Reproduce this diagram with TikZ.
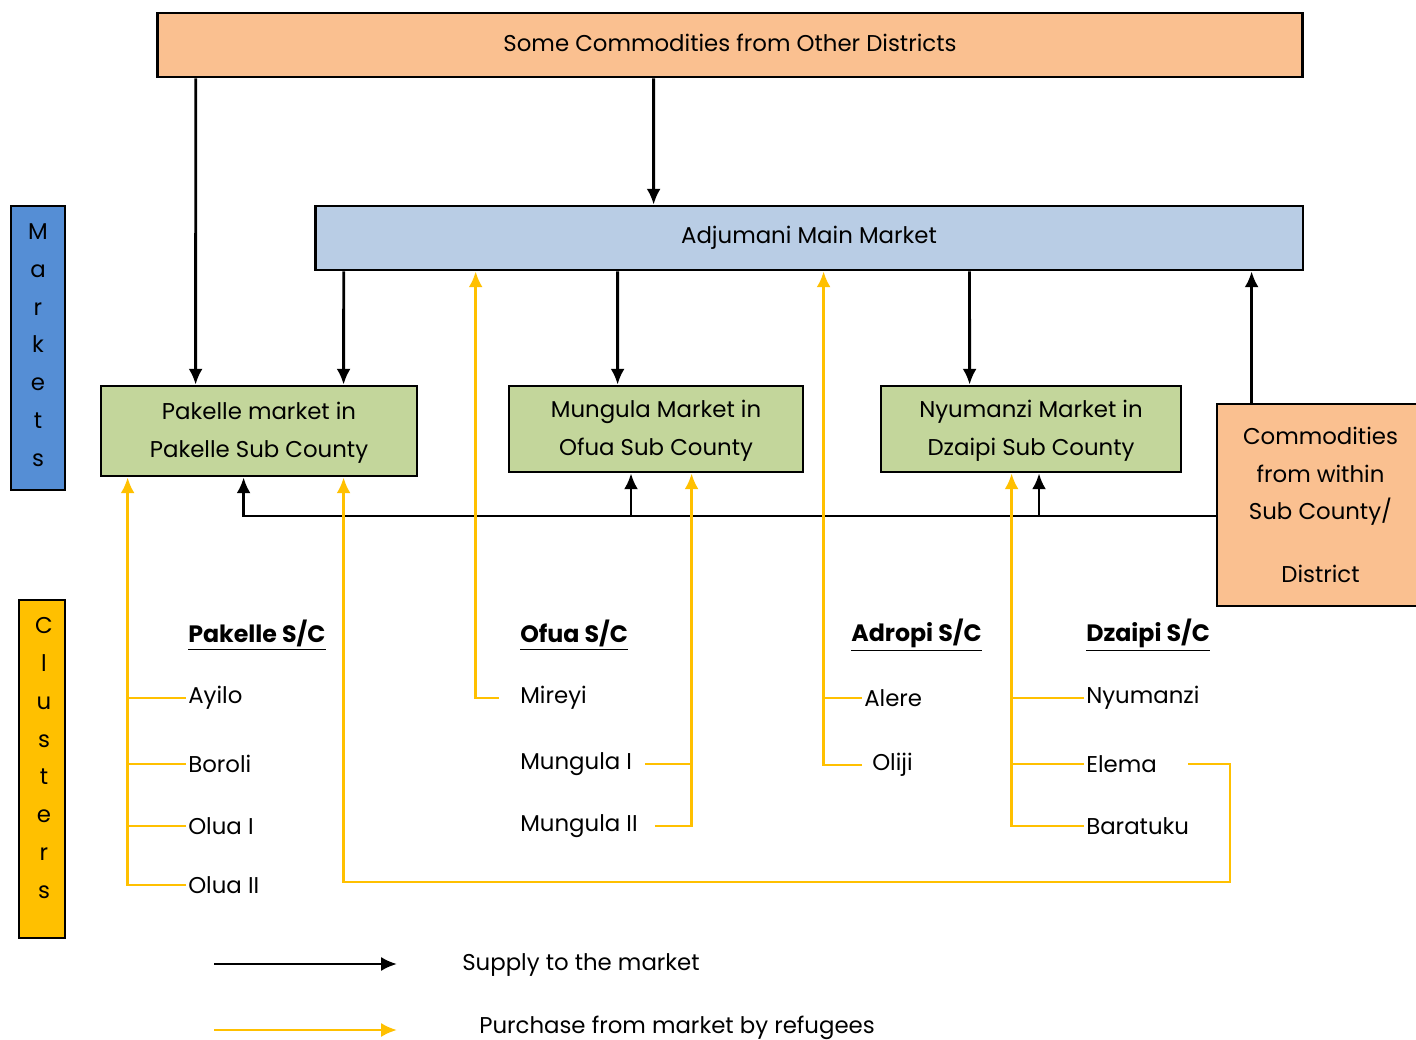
\documentclass[tikz,border=0pt]{standalone}
\usepackage{fontspec}
\setmainfont{Poppins}
\usepackage{xcolor}
\usepackage{tikz}
\usetikzlibrary{positioning}
\usetikzlibrary{arrows.meta}
\definecolor{peach}{HTML}{FAC090}
\definecolor{mainblue}{HTML}{B9CDE5}
\definecolor{mktblue}{HTML}{558ED5}
\definecolor{mktgreen}{HTML}{C3D69B}
\definecolor{gold}{HTML}{FFC000}
\tikzset{edge/.style = {->,> = {Latex[length=9pt,width=8pt]}}}
\tikzset{buy/.style = {edge, draw=gold}}

\begin{document}
\begin{tikzpicture}[x=0.02cm,y=-0.02cm,line width=1.6pt,
    every node/.style={font=\fontsize{13}{21.5}\selectfont},
    box/.style={rectangle,draw,align=center,inner sep=0pt},
    item/.style={anchor=west,inner sep=0.5pt},
    head/.style={item,font=\fontsize{13.5}{21.5}\selectfont\bfseries}]
  \useasboundingbox (0,0) rectangle (1416,1040);

  % market boxes
  \node[box, fill=peach, minimum width=22.92cm, minimum height=1.28cm] (top) at (730,45) {\raisebox{3pt}{Some Commodities from Other Districts}};
  \node[box, fill=mainblue, minimum width=19.76cm, minimum height=1.28cm] (adj) at (809,238) {\raisebox{2pt}{Adjumani Main Market}};
  \node[box, fill=mktgreen, minimum width=6.32cm, minimum height=1.8cm] (pak) at (259,431) {\raisebox{-2pt}{\begin{tabular}{@{}c@{}}Pakelle market in\\Pakelle Sub County\end{tabular}}};
  \node[box, fill=mktgreen, minimum width=5.88cm, minimum height=1.72cm] (mun) at (656,429) {\raisebox{-2pt}{\begin{tabular}{@{}c@{}}Mungula Market in\\Ofua Sub County\end{tabular}}};
  \node[box, fill=mktgreen, minimum width=6cm, minimum height=1.72cm] (nyu) at (1031,429) {\raisebox{-2pt}{\begin{tabular}{@{}c@{}}Nyumanzi Market in\\Dzaipi Sub County\end{tabular}}};
  \node[box, fill=peach, minimum width=4.14cm, minimum height=4.04cm] (win) at (1320.5,505) {Commodities\\from within\\Sub County/\\[0.5cm]District};

  % side bars
  \node[box, fill=mktblue, minimum width=1.08cm, minimum height=5.68cm] (mkts) at (38,348) {};
  \node[align=center, inner sep=0pt] (mkword) at (38,345) {M\\a\\r\\k\\e\\t\\s};
  \node[box, fill=gold, minimum width=0.92cm, minimum height=6.76cm] (clus) at (42,769) {};
  \node[align=center, inner sep=0pt] (clword) at (44,758) {C\\l\\u\\s\\t\\e\\r\\s};

  % clusters
  \node[head] (hpak) at (186,635) {\underline{Pakelle S/C}};
  \node[head] (hofu) at (518,635) {\underline{Ofua S/C}};
  \node[head] (hadr) at (849,635) {\underline{Adropi S/C}};
  \node[head] (hdza) at (1084,635) {\underline{Dzaipi S/C}};
  \node[item] (ayi) at (186,698) {Ayilo};
  \node[item] (bor) at (186,764) {Boroli};
  \node[item] (ol1) at (186,826) {Olua I};
  \node[item] (ol2) at (186,885) {Olua II};
  \node[item] (mir) at (518,698) {Mireyi};
  \node[item] (mu1) at (518,764) {Mungula I};
  \node[item] (mu2) at (518,826) {Mungula II};
  \node[item] (ale) at (862,698) {Alere};
  \node[item] (oli) at (870,765) {Oliji};
  \node[item] (nyi) at (1084,698) {Nyumanzi};
  \node[item] (ele) at (1084,764) {Elema};
  \node[item] (bar) at (1084,826) {Baratuku};

  % supply
  \draw[edge] ([xshift=0.8cm]top.south west) -- ([xshift=1.92cm]pak.north west);
  \draw[edge] ([xshift=9.96cm]top.south west) -- ([xshift=6.8cm]adj.north west);
  \draw[edge] ([xshift=0.6cm]adj.south west) -- ([xshift=4.88cm]pak.north west);
  \draw[edge] ([xshift=6.08cm]adj.south west) -- ([xshift=2.2cm]mun.north west);
  \draw[edge] ([xshift=13.12cm]adj.south west) -- ([xshift=1.8cm]nyu.north west);
  \coordinate (wup) at ([xshift=0.72cm]win.north west);
  \draw[edge] (wup) -- (wup |- adj.south);
  \draw[edge] ([yshift=-0.22cm]win.west) -| ([xshift=2.88cm]pak.south west);
  \coordinate (bmun) at (631,516);
  \coordinate (bnyu) at (1039,516);
  \draw[edge] (bmun) -- (bmun |- mun.south);
  \draw[edge] (bnyu) -- (bnyu |- nyu.south);

  % purchase
  \coordinate (ypak) at ([xshift=0.56cm]pak.south west);
  \coordinate (ypak2) at ([xshift=4.88cm]pak.south west);
  \coordinate (ymir) at ([xshift=3.24cm]adj.south west);
  \coordinate (ymun) at ([xshift=3.68cm]mun.south west);
  \coordinate (yadr) at ([xshift=10.2cm]adj.south west);
  \coordinate (ynyu) at ([xshift=2.64cm]nyu.south west);
  \coordinate (ycorner) at (1230,882);
  \draw[buy] (ol2.west) -| (ypak);
  \foreach \n in {ayi,bor,ol1}
    \draw[gold] (\n.west) -- (\n.west -| ypak);
  \draw[buy] ([xshift=0.58cm]ele.east) -| (ycorner) -| (ypak2);
  \draw[buy] ([xshift=-0.38cm]mir.west) -| (ymir);
  \draw[buy] ([xshift=0.3cm]mu2.east) -| (ymun);
  \draw[gold] ([xshift=0.22cm]mu1.east) -- (mu1.east -| ymun);
  \draw[buy] ([xshift=-0.16cm]oli.west) -| (yadr);
  \draw[gold] (ale.west) -- (ale.west -| yadr);
  \draw[buy] (bar.west) -| (ynyu);
  \foreach \n in {nyi,ele}
    \draw[gold] (\n.west) -- (\n.west -| ynyu);

  % key
  \coordinate (k1) at (214,964);
  \coordinate (k2) at (397,964);
  \coordinate (k3) at (214,1030);
  \coordinate (k4) at (397,1030);
  \draw[edge] (k1) -- (k2);
  \draw[buy] (k3) -- (k4);
  \node[item] (ksup) at (460,965) {Supply to the market};
  \node[item] (kbuy) at (477,1028) {Purchase from market by refugees};
\end{tikzpicture}
\end{document}
